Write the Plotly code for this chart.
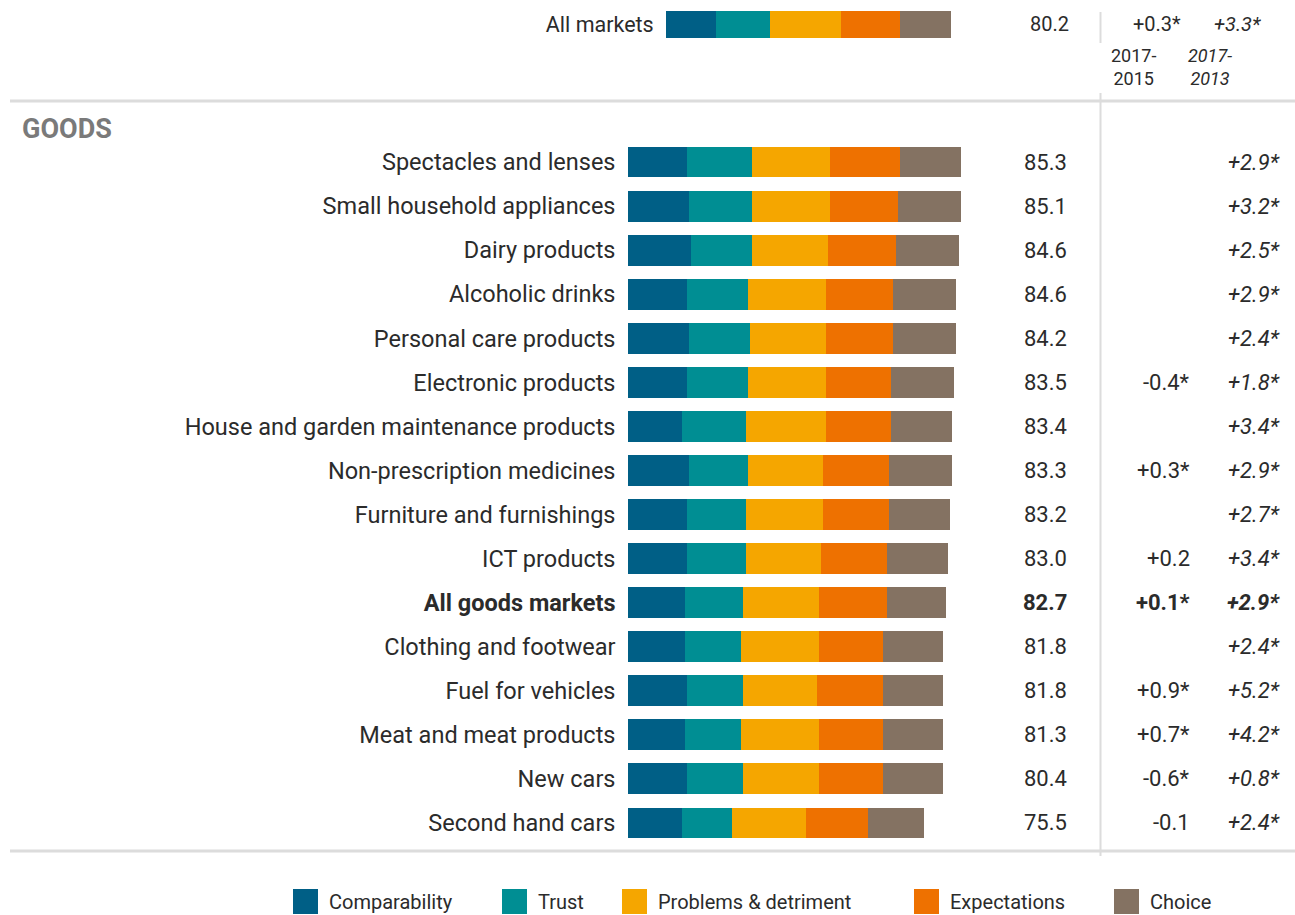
import plotly.graph_objects as go

W, H = 1295, 915
FONT = "Roboto"
TXT = "#2b2b2b"
GRID = "#dcdcdc"

components = ["Comparability", "Trust", "Problems & detriment", "Expectations", "Choice"]
colors = ["#005f86", "#008e93", "#f5a600", "#ee7100", "#847262"]

markets = ["Spectacles and lenses", "Small household appliances", "Dairy products",
           "Alcoholic drinks", "Personal care products", "Electronic products",
           "House and garden maintenance products", "Non-prescription medicines",
           "Furniture and furnishings", "ICT products", "<b>All goods markets</b>",
           "Clothing and footwear", "Fuel for vehicles", "Meat and meat products",
           "New cars", "Second hand cars"]

comparability = [15.1, 15.7, 16.3, 15.1, 15.7, 15.1, 14.0, 15.7, 15.1, 15.1, 14.6, 14.6, 15.1, 14.6, 15.1, 14.0]
trust = [16.8, 16.2, 15.6, 15.6, 15.6, 15.6, 16.2, 15.0, 15.1, 15.1, 15.0, 14.4, 14.5, 14.4, 14.5, 12.8]
problems = [19.9, 19.9, 19.4, 20.1, 19.5, 20.1, 20.6, 19.4, 19.9, 19.4, 19.5, 20.1, 18.9, 20.1, 19.5, 18.9]
expectations = [17.9, 17.3, 17.3, 17.2, 17.2, 16.7, 16.7, 16.8, 16.8, 16.7, 17.3, 16.2, 16.8, 16.2, 16.2, 15.7]
choice = [15.6, 16.2, 16.1, 16.1, 16.1, 16.1, 15.5, 16.1, 15.5, 15.6, 15.0, 15.5, 15.5, 15.5, 15.5, 14.4]

mpi = ["85.3", "85.1", "84.6", "84.6", "84.2", "83.5", "83.4", "83.3", "83.2", "83.0",
       "82.7", "81.8", "81.8", "81.3", "80.4", "75.5"]
chg_2015 = ["", "", "", "", "", "-0.4*", "", "+0.3*", "", "+0.2",
            "+0.1*", "", "+0.9*", "+0.7*", "-0.6*", "-0.1"]
chg_2013 = ["+2.9*", "+3.2*", "+2.5*", "+2.9*", "+2.4*", "+1.8*", "+3.4*", "+2.9*", "+2.7*", "+3.4*",
            "+2.9*", "+2.4*", "+5.2*", "+4.2*", "+0.8*", "+2.4*"]

all_label = "All markets"
all_values = [14.1, 15.1, 20.2, 16.4, 14.4]
all_mpi = "80.2"
all_chg_2015 = "+0.3*"
all_chg_2013 = "+3.3*"
period_labels = ["2017-<br>2015", "2017-<br>2013"]
section_label = "GOODS"

series = [comparability, trust, problems, expectations, choice]


def px(x):
    return x / W


def py(y):
    return 1 - y / H


fig = go.Figure()
for name, vals, col in zip(components, series, colors):
    fig.add_trace(go.Bar(y=markets, x=vals, orientation="h", name=name,
                         marker=dict(color=col, line=dict(width=0)),
                         width=0.70, xaxis="x", yaxis="y", showlegend=False,
                         hoverinfo="skip"))
for name, v, col in zip(components, all_values, colors):
    fig.add_trace(go.Bar(y=[all_label], x=[v], orientation="h", name=name,
                         marker=dict(color=col, line=dict(width=0)),
                         width=0.667, xaxis="x2", yaxis="y2", showlegend=False,
                         hoverinfo="skip"))

main_x0 = 627.5
top_x0 = 665.7
fig.update_layout(
    width=W, height=H, margin=dict(l=0, r=0, t=0, b=0),
    paper_bgcolor="white", plot_bgcolor="white", barmode="stack",
    font=dict(family=FONT, color=TXT),
    xaxis=dict(domain=[px(main_x0), px(main_x0 + 391)], range=[0, 100],
               visible=False, fixedrange=True),
    yaxis=dict(domain=[py(845), py(140)], type="category", categoryorder="array",
               categoryarray=markets, range=[15.5, -0.5], showgrid=False,
               zeroline=False, showline=False, ticks="", ticklabelstandoff=11,
               tickfont=dict(size=23.5, family=FONT, color=TXT)),
    xaxis2=dict(domain=[px(top_x0), px(top_x0 + 355.7)], range=[0, 100],
                visible=False, anchor="y2"),
    yaxis2=dict(domain=[py(44.3), py(4.3)], type="category", range=[-0.5, 0.5],
                anchor="x2", showgrid=False, zeroline=False, showline=False,
                ticks="", ticklabelstandoff=11,
                tickfont=dict(size=21.5, family=FONT, color=TXT)),
)

ann = []
for i, m in enumerate(markets):
    bold = m.startswith("<b>")

    def fmt(s):
        return f"<b>{s}</b>" if (bold and s) else s
    ann.append(dict(x=px(1069), y=m, xref="paper", yref="y", text=fmt(mpi[i]),
                    xanchor="right", yanchor="middle", showarrow=False, font=dict(size=22)))
    if chg_2015[i]:
        ann.append(dict(x=px(1192), y=m, xref="paper", yref="y", text=fmt(chg_2015[i]),
                        xanchor="right", yanchor="middle", showarrow=False, font=dict(size=22)))
    ann.append(dict(x=px(1282), y=m, xref="paper", yref="y",
                    text=f"<i>{fmt(chg_2013[i])}</i>",
                    xanchor="right", yanchor="middle", showarrow=False, font=dict(size=22)))

ann.append(dict(x=px(1071), y=all_label, xref="paper", yref="y2", text=all_mpi,
                xanchor="right", yanchor="middle", showarrow=False, font=dict(size=20)))
ann.append(dict(x=px(1183), y=all_label, xref="paper", yref="y2", text=all_chg_2015,
                xanchor="right", yanchor="middle", showarrow=False, font=dict(size=20)))
ann.append(dict(x=px(1263), y=all_label, xref="paper", yref="y2",
                text=f"<i>{all_chg_2013}</i>",
                xanchor="right", yanchor="middle", showarrow=False, font=dict(size=20)))
ann.append(dict(x=px(1158), y=py(67), xref="paper", yref="paper", text=period_labels[0],
                yanchor="middle", showarrow=False, font=dict(size=18), align="center"))
ann.append(dict(x=px(1234), y=py(67), xref="paper", yref="paper",
                text=f"<i>{period_labels[1]}</i>", yanchor="middle",
                showarrow=False, font=dict(size=18), align="center"))
ann.append(dict(x=px(20), y=py(129), xref="paper", yref="paper", text=f"<b>{section_label}</b>",
                xanchor="left", yanchor="middle", showarrow=False,
                font=dict(size=27, color="#7a7a7a")))

# manual legend
leg_x = [293, 502, 622, 914, 1114]
shapes = []
for name, col, lx in zip(components, colors, leg_x):
    shapes.append(dict(type="rect", xref="paper", yref="paper",
                       x0=px(lx), x1=px(lx + 25), y0=py(914), y1=py(889),
                       fillcolor=col, line=dict(width=0)))
    ann.append(dict(x=px(lx + 34), y=py(902), xref="paper", yref="paper", text=name,
                    xanchor="left", yanchor="middle", showarrow=False, font=dict(size=20)))

# rules
shapes += [
    dict(type="line", xref="paper", yref="paper", x0=px(10), x1=1, y0=py(101), y1=py(101),
         line=dict(color=GRID, width=3)),
    dict(type="line", xref="paper", yref="paper", x0=px(10), x1=1, y0=py(851), y1=py(851),
         line=dict(color=GRID, width=3)),
    dict(type="line", xref="paper", yref="paper", x0=px(1100.5), x1=px(1100.5), y0=py(12), y1=py(43),
         line=dict(color=GRID, width=2)),
    dict(type="line", xref="paper", yref="paper", x0=px(1100.5), x1=px(1100.5), y0=py(93), y1=py(856),
         line=dict(color=GRID, width=2)),
]

fig.update_layout(annotations=ann, shapes=shapes)
fig.write_html("out.html")
